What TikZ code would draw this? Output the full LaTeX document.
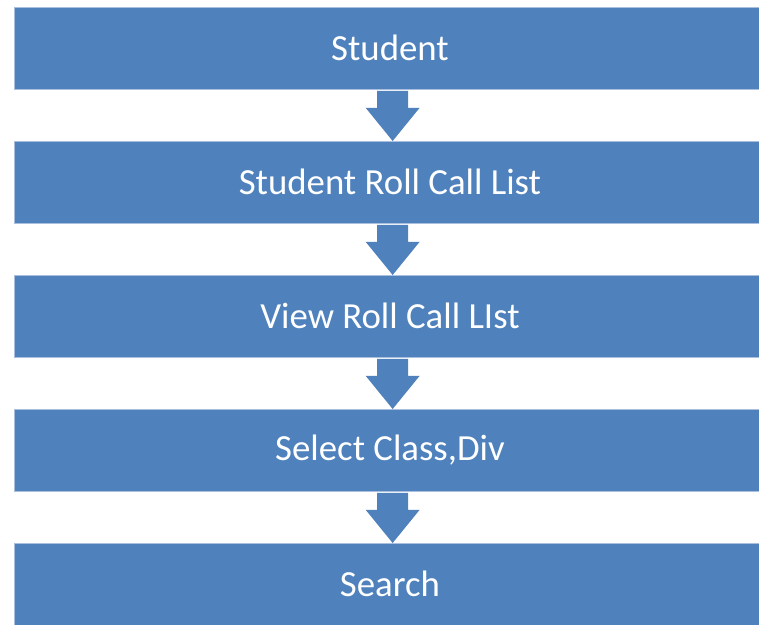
\documentclass[tikz,border=0pt]{standalone}
\usepackage{fontspec}
\setmainfont{Carlito}
\usetikzlibrary{calc}
\definecolor{boxblue}{HTML}{4F81BD}
\definecolor{edgeblue}{HTML}{A9BFDD}
\tikzset{
  stepbox/.style={fill=boxblue, draw=edgeblue, line width=0.8pt, minimum width=760pt, minimum height=82pt, inner sep=0pt, anchor=north west, text=white, font=\fontsize{36.8}{40}\selectfont},
  flowarrow/.style={fill=boxblue, draw=none}
}
\newcommand{\downarrowshape}[2]{%
  \fill[boxblue] ($(#1.south)+(0,-2)$) ++(-15.5,0) coordinate (tmpa)
    -- ++(0,-16) -- ++(-11,0) -- ($(#2.north)+(0,0)$) -- ($(tmpa)+(42,-16)$) -- ++(-11,0) -- ++(0,16) -- cycle;}
\begin{document}
\begin{tikzpicture}[x=1pt,y=1pt]
\useasboundingbox (0,0) rectangle (759,-624);
\clip (0,0) rectangle (759,-624);
\fill[white] (0,0) rectangle (759,-624);
\node[stepbox] (b1) at (13.5,-7) {};
\node[stepbox] (b2) at (13.5,-141) {};
\node[stepbox] (b3) at (13.5,-275) {};
\node[stepbox] (b4) at (13.5,-409) {};
\node[stepbox] (b5) at (13.5,-543) {};
\node[text=white, font=\fontsize{36.8}{40}\selectfont] (t1) at (390,-48) {Student};
\node[text=white, font=\fontsize{36.8}{40}\selectfont] (t2) at (390,-182) {Student Roll Call List};
\node[text=white, font=\fontsize{36.8}{40}\selectfont] (t3) at (390,-316) {View Roll Call LIst};
\node[text=white, font=\fontsize{36.8}{40}\selectfont] (t4) at (390,-450) {Select Class,Div};
\node[text=white, font=\fontsize{36.8}{40}\selectfont] (t5) at (390,-584) {Search};
\foreach \a/\b in {b1/b2,b2/b3,b3/b4,b4/b5}{
  \fill[boxblue] ($(\a.south)+(-15.5-1.25,-1)$) -- ($(\a.south)+(15.5-1.25,-1)$)
    -- ($(\a.south)+(15.5-1.25,-18)$) -- ($(\a.south)+(27-1.25,-18)$)
    -- ($(\b.north)+(-1.25,0)$) -- ($(\a.south)+(-27-1.25,-18)$)
    -- ($(\a.south)+(-15.5-1.25,-18)$) -- cycle;
}
\end{tikzpicture}
\end{document}
